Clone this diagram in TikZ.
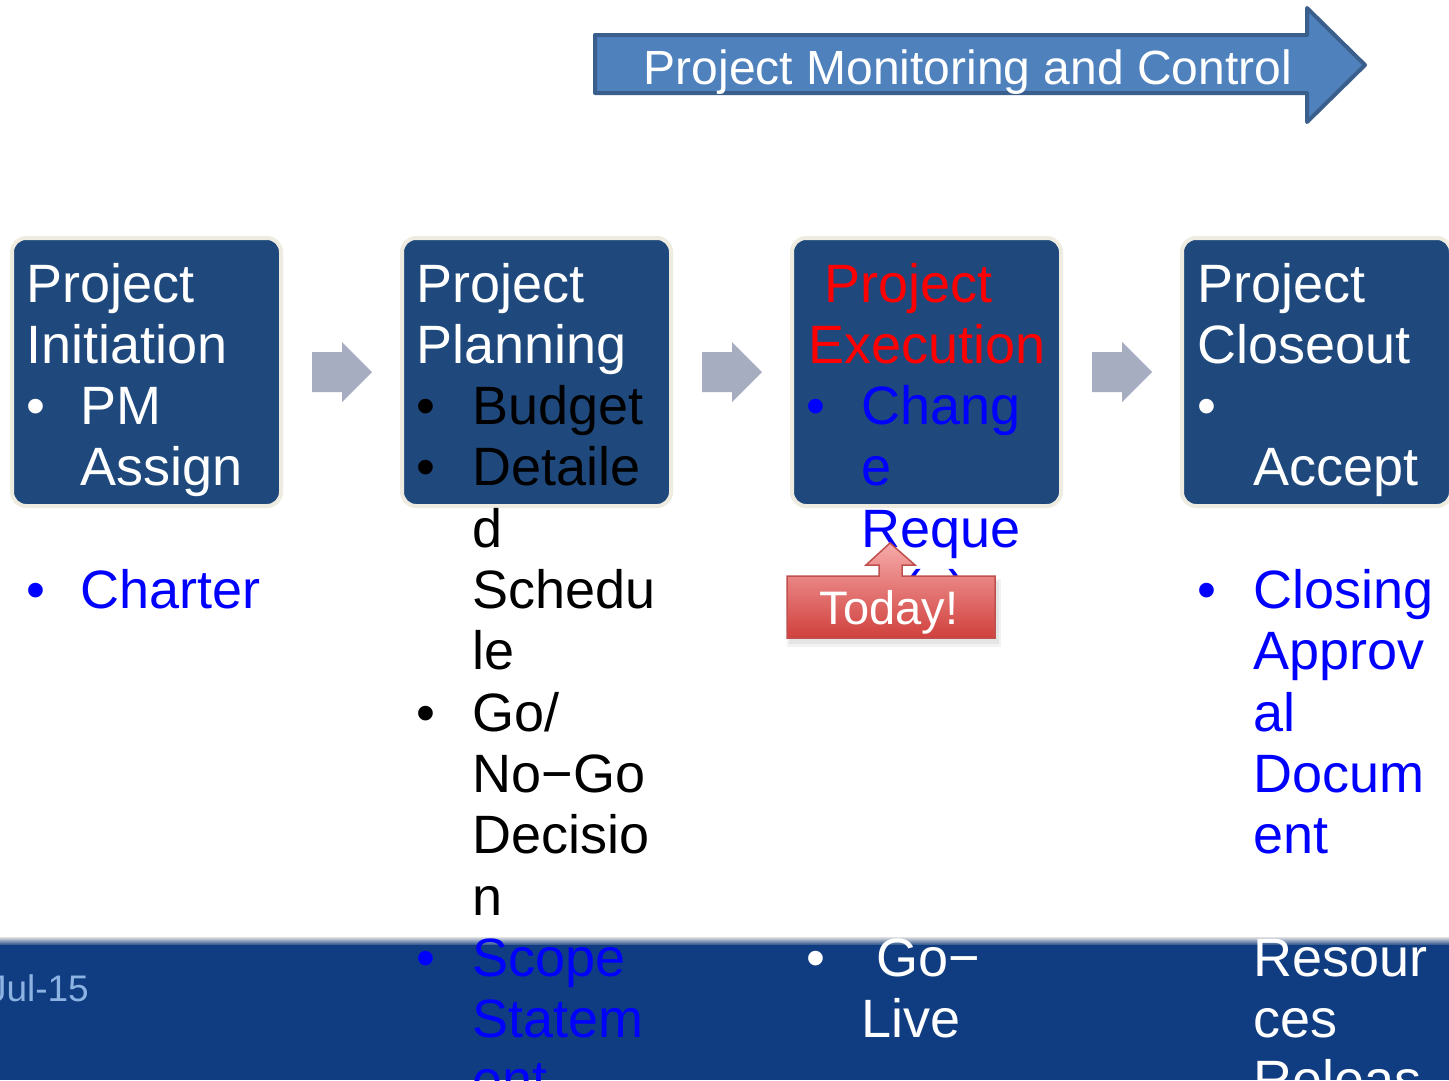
\documentclass[tikz,border=0pt]{standalone}
\usepackage{fontspec}
\setmainfont{Liberation Sans}
\definecolor{boxfill}{HTML}{1F497D}
\definecolor{boxedge}{HTML}{EEECE1}
\definecolor{chev}{HTML}{A6ADC1}
\definecolor{band}{HTML}{103D82}
\definecolor{titlefill}{HTML}{4F81BD}
\definecolor{titleedge}{HTML}{3B5F8C}
\definecolor{datecol}{HTML}{8DB3E2}
\definecolor{todayedge}{HTML}{C0504D}
\definecolor{todaytop}{HTML}{F6ABA9}
\definecolor{todaybot}{HTML}{D0403D}
\definecolor{pred}{HTML}{FF0000}
\definecolor{pblue}{HTML}{0000FF}
\tikzset{
  pbox/.style={draw=boxedge, fill=boxfill, line width=4pt, rounded corners=14pt,
    minimum width=269pt, minimum height=268pt, inner sep=0pt},
  tl/.style={anchor=base west, inner sep=0pt, font=\fontsize{54}{61}\selectfont},
  chevron/.style={fill=chev},
}
\begin{document}
\begin{tikzpicture}[x=1pt,y=-1pt]
\useasboundingbox (0,0) rectangle (1449,1080);
\clip (0,0) rectangle (1449,1080);
\fill[white] (0,0) rectangle (1449,1080);

% bottom band
\shade[top color=black!12, bottom color=band] (0,937) rectangle (1449,946);
\fill[band] (0,945) rectangle (1449,1080);
\node[anchor=base east, inner sep=0pt, text=datecol, font=\fontsize{37}{40}\selectfont] (date) at (89,1001) {Jul-15};

% title arrow
\draw[titleedge, fill=titlefill, line width=4pt, line join=round]
  (595,35) -- (1307,35) -- (1307,8) -- (1365,65) -- (1307,122) -- (1307,93) -- (595,93) -- cycle;
\node[anchor=base west, inner sep=0pt, text=white, font=\fontsize{48}{52}\selectfont] (title) at (643.5,84) {Project Monitoring and Control};

% boxes
\node[pbox] (b1) at (146.5,372) {};
\node[pbox] (b2) at (536.5,372) {};
\node[pbox] (b3) at (926.5,372) {};
\node[pbox] (b4) at (1316.5,372) {};

% chevrons
\foreach \dx/\n in {0/1,390/2,780/3}{
  \fill[chevron, xshift=\dx pt] (312,352) -- (342,352) -- (342,342) -- (372,372) -- (342,402) -- (342,392) -- (312,392) -- cycle;
}

% column 1
\node[tl, text=white] (a1) at (26.5,302) {Project};
\node[tl, text=white] (a2) at (26.5,363.3) {Initiation};
\node[tl, text=white] (a3b) at (26.5,424.6) {•};
\node[tl, text=white] (a3) at (80.5,424.6) {PM};
\node[tl, text=white] (a4) at (80.5,485.9) {Assign};
\node[tl, text=pblue] (a6b) at (26.5,608.5) {•};
\node[tl, text=pblue] (a6) at (80.5,608.5) {Charter};

% column 2
\node[tl, text=white] (p1) at (416.5,302) {Project};
\node[tl, text=white] (p2) at (416.5,363.3) {Planning};
\node[tl, text=black] (p3b) at (416.5,424.6) {•};
\node[tl, text=black] (p3) at (472.5,424.6) {Budget};
\node[tl, text=black] (p4b) at (416.5,485.9) {•};
\node[tl, text=black] (p4) at (472.5,485.9) {Detaile};
\node[tl, text=black] (p5) at (472.5,547.2) {d};
\node[tl, text=black] (p6) at (472.5,608.5) {Schedu};
\node[tl, text=black] (p7) at (472.5,669.8) {le};
\node[tl, text=black] (p8b) at (416.5,731.1) {•};
\node[tl, text=black] (p8) at (472.5,731.1) {Go/};
\node[tl, text=black] (p9) at (472.5,792.4) {No−Go};
\node[tl, text=black] (p10) at (472.5,853.7) {Decisio};
\node[tl, text=black] (p11) at (472.5,915) {n};
\node[tl, text=pblue] (p12b) at (416.5,976.3) {•};
\node[tl, text=pblue] (p12) at (472.5,976.3) {Scope};
\node[tl, text=pblue] (p13) at (472.5,1037.6) {Statem};
\node[tl, text=pblue] (p14) at (472.5,1098.9) {ent};

% column 3
\node[tl, text=pred] (e1) at (824.5,302) {Project};
\node[tl, text=pred] (e2) at (808.5,363.3) {Execution};
\node[tl, text=pblue] (e3b) at (806.5,424.6) {•};
\node[tl, text=pblue] (e3) at (861.5,424.6) {Chang};
\node[tl, text=pblue] (e4) at (861.5,485.9) {e};
\node[tl, text=pblue] (e5) at (861.5,547.2) {Reque};
\node[tl, text=pblue] (e6) at (861.5,608.5) {st(s)};
\node[tl, text=white] (e12b) at (806.5,976.3) {•};
\node[tl, text=white] (e12) at (876.5,976.3) {Go−};
\node[tl, text=white] (e13) at (861.5,1037.6) {Live};

% column 4
\node[tl, text=white] (c1) at (1197.5,302) {Project};
\node[tl, text=white] (c2) at (1197.5,363.3) {Closeout};
\node[tl, text=white] (c3b) at (1197.5,424.6) {•};
\node[tl, text=white] (c4) at (1253.5,485.9) {Accept};
\node[tl, text=pblue] (c6b) at (1197.5,608.5) {•};
\node[tl, text=pblue] (c6) at (1253.5,608.5) {Closing};
\node[tl, text=pblue] (c7) at (1253.5,669.8) {Approv};
\node[tl, text=pblue] (c8) at (1253.5,731.1) {al};
\node[tl, text=pblue] (c9) at (1253.5,792.4) {Docum};
\node[tl, text=pblue] (c10) at (1253.5,853.7) {ent};
\node[tl, text=white] (c12) at (1253.5,976.3) {Resour};
\node[tl, text=white] (c13) at (1253.5,1037.6) {ces};
\node[tl, text=white] (c14) at (1253.5,1098.9) {Releas};

% Today callout
\fill[black!20, opacity=0.45] (789,581) rectangle (999,644);
\fill[black!12, opacity=0.4] (787,579) rectangle (1001,647);
\path[draw=todayedge, line width=1.5pt, line join=miter, top color=todaytop, bottom color=todaybot]
  (787,576) -- (879,576) -- (879,565) -- (866,565) -- (890,543) -- (915,565) -- (902,565) -- (902,576)
  -- (995,576) -- (995,638) -- (787,638) -- cycle;
\node[anchor=base, inner sep=0pt, text=white, font=\fontsize{47}{50}\selectfont] (today) at (889,624) {Today!};
\end{tikzpicture}
\end{document}
